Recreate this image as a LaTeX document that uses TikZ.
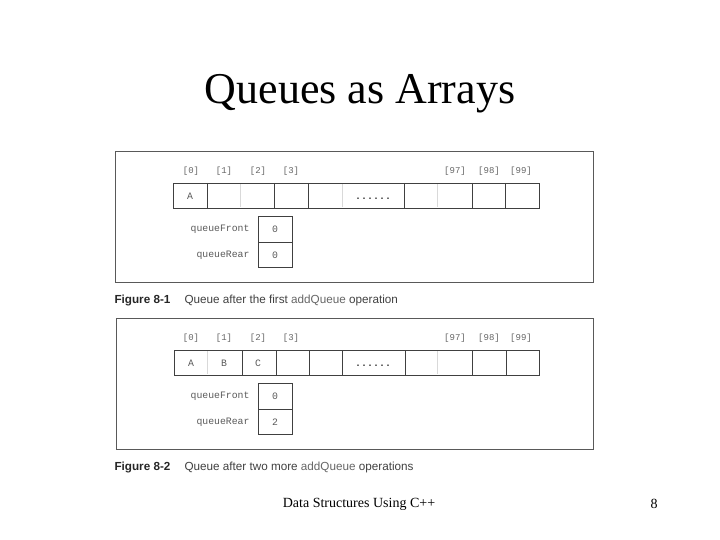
\documentclass[tikz,border=0pt]{standalone}
\usepackage{fontspec}
\setmainfont{Liberation Serif}
\setsansfont{Liberation Sans}
\newfontfamily\codefont{Liberation Mono}
\usetikzlibrary{positioning}

\tikzset{
  panel/.style={draw=black!65, line width=0.9pt},
  cellrow/.style={draw=black!75, line width=0.8pt},
  faint/.style={draw=black!15, line width=0.6pt},
  idx/.style={font=\fontsize{9}{10}\selectfont\codefont, text=black!60},
  code/.style={font=\fontsize{9.8}{11}\selectfont\codefont, text=black!65},
  dotfill/.style={font=\fontsize{10}{11}\selectfont\codefont\bfseries, text=black!80},
  figlabel/.style={font=\fontsize{11.7}{14}\selectfont\sffamily\bfseries, text=black!85, anchor=west},
  figtext/.style={font=\fontsize{11.7}{14}\selectfont\sffamily, text=black!75, anchor=west}
}

\begin{document}
\begin{tikzpicture}[x=1pt, y=-1pt]
    \useasboundingbox (0,0) rectangle (720,540);
    % Title
    \node[font=\fontsize{44}{50}\selectfont] (title) at (360,94) {Queues as Arrays};

    % Figure 8-1
    \draw[panel] (115,151) rectangle (593,282);
    \foreach \x/\t [count=\i] in {191/[0], 224/[1], 258/[2], 291/[3], 455/[97], 489/[98], 521/[99]}
        \node[idx] (idxA\i) at (\x,171) {\t};
    \foreach \x in {240, 342, 437}
        \draw[faint] (\x,184) -- (\x,207);
    \draw[cellrow] (173,183) rectangle (539,208);
    \foreach \x in {207, 274, 308, 404, 472, 505}
        \draw[cellrow] (\x,183) -- (\x,208);
    \node[code] (cellA0) at (190,196) {A};
    \node[dotfill] (dotsA) at (373,199) {......};
    \draw[cellrow] (258,216) rectangle (292,267);
    \draw[cellrow] (258,242) -- (292,242);
    \node[code, anchor=east] (frontA) at (253,229) {queueFront};
    \node[code, anchor=east] (rearA) at (253,255) {queueRear};
    \node[code] (frontvalA) at (275,229) {0};
    \node[code] (rearvalA) at (275,255) {0};
    \node[figlabel] (figA) at (111,300) {Figure 8-1};
    \node[figtext] (capA) at (181,300) {Queue after the first {\color{black!60}addQueue} operation};

    % Figure 8-2
    \draw[panel] (116,318) rectangle (593,449);
    \foreach \x/\t [count=\i] in {191/[0], 224/[1], 258/[2], 291/[3], 455/[97], 489/[98], 521/[99]}
        \node[idx] (idxB\i) at (\x,338) {\t};
    \foreach \x in {207, 437}
        \draw[faint] (\x,351) -- (\x,374);
    \draw[cellrow] (174,350) rectangle (539,375);
    \foreach \x in {242, 276, 309, 342, 405, 472, 506}
        \draw[cellrow] (\x,350) -- (\x,375);
    \node[code] (cellB0) at (191,363) {A};
    \node[code] (cellB1) at (224,363) {B};
    \node[code] (cellB2) at (258,363) {C};
    \node[dotfill] (dotsB) at (373,366) {......};
    \draw[cellrow] (258,383) rectangle (292,434);
    \draw[cellrow] (258,409) -- (292,409);
    \node[code, anchor=east] (frontB) at (253,396) {queueFront};
    \node[code, anchor=east] (rearB) at (253,422) {queueRear};
    \node[code] (frontvalB) at (275,396) {0};
    \node[code] (rearvalB) at (275,422) {2};
    \node[figlabel] (figB) at (111,467) {Figure 8-2};
    \node[figtext] (capB) at (181,467) {Queue after two more {\color{black!60}addQueue} operations};

    % Footer
    \node[font=\fontsize{14}{16}\selectfont] (footer) at (359,504) {Data Structures Using C++};
    \node[font=\fontsize{14}{16}\selectfont] (pagenum) at (654,504) {8};
\end{tikzpicture}
\end{document}
